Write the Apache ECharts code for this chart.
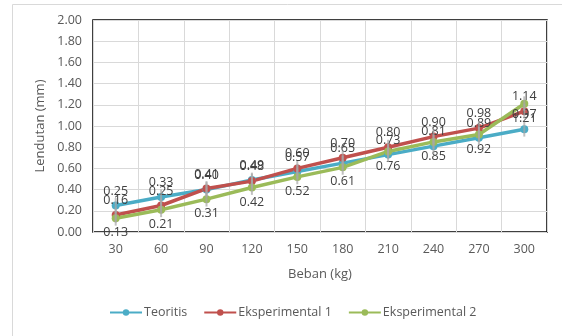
<!DOCTYPE html>
<html>
<head>
<meta charset="utf-8">
<script src="https://cdn.jsdelivr.net/npm/echarts@6/dist/echarts.min.js"></script>
<style>
  html, body { margin: 0; padding: 0; background: #fff; }
  #chart { width: 562px; height: 336px; }
</style>
</head>
<body>
<div id="chart"></div>
<script>
// data
var beban = ['30', '60', '90', '120', '150', '180', '210', '240', '270', '300'];
var teoritis = [0.25, 0.33, 0.40, 0.49, 0.57, 0.65, 0.73, 0.81, 0.89, 0.97];
var eksp1 = [0.16, 0.25, 0.41, 0.48, 0.60, 0.70, 0.80, 0.90, 0.98, 1.14];
var eksp2 = [0.13, 0.21, 0.31, 0.42, 0.52, 0.61, 0.76, 0.85, 0.92, 1.21];
var yTicks = [0, 0.2, 0.4, 0.6, 0.8, 1.0, 1.2, 1.4, 1.6, 1.8, 2.0];
var errAmount = 0.07; // gray error bars

(function () {
  var myChart = echarts.init(document.getElementById('chart'));
  var txt = '#595959';
  var font = '"Open Sans", Lato, sans-serif';

  function lineSeries(name, data, color, pos) {
    return {
      name: name,
      type: 'line',
      data: data,
      symbol: 'circle',
      symbolSize: 8,
      color: color,
      lineStyle: { width: 3.5, color: color },
      itemStyle: { color: color },
      label: {
        show: true,
        position: pos,
        distance: 4,
        color: '#404040',
        fontSize: 12.5,
        fontFamily: font,
        formatter: function (p) { return p.value.toFixed(2); }
      },
      z: 3
    };
  }

  // error bars drawn over each series
  function errSeries(data) {
    return {
      type: 'custom',
      silent: true,
      z: 4,
      data: data.map(function (v, i) { return [i, v - errAmount, v + errAmount]; }),
      renderItem: function (params, api) {
        var lo = api.coord([api.value(0), api.value(1)]);
        var hi = api.coord([api.value(0), api.value(2)]);
        return {
          type: 'line',
          shape: { x1: lo[0], y1: lo[1], x2: hi[0], y2: hi[1] },
          style: { stroke: '#a6a6a6', lineWidth: 2, opacity: 0.7 }
        };
      }
    };
  }

  var option = {
    animation: false,
    textStyle: { fontFamily: font },
    graphic: [{
      type: 'rect',
      shape: { x: 12.5, y: 4.5, width: 600, height: 400 },
      style: { fill: 'none', stroke: '#d9d9d9', lineWidth: 1 },
      silent: true
    }],
    grid: {
      left: 93, right: 15, top: 20, bottom: 104,
      show: true, borderColor: '#000', borderWidth: 1.5,
      containLabel: false
    },
    legend: {
      bottom: 12,
      left: 104,
      itemWidth: 32,
      itemHeight: 8,
      itemGap: 16,
      textStyle: { color: txt, fontSize: 12.5, fontFamily: font, padding: [0, 0, 0, -3] },
      data: ['Teoritis', 'Eksperimental 1', 'Eksperimental 2']
    },
    xAxis: {
      type: 'category',
      data: beban,
      boundaryGap: true,
      name: 'Beban (kg)',
      nameLocation: 'middle',
      nameGap: 36,
      nameTextStyle: { color: txt, fontSize: 13, fontFamily: font },
      axisLine: { show: false },
      axisTick: { show: false },
      axisLabel: { color: txt, fontSize: 12.5, margin: 11, fontFamily: font },
      splitLine: { show: true, lineStyle: { color: '#d9d9d9', width: 1 } }
    },
    yAxis: {
      type: 'value',
      min: yTicks[0],
      max: yTicks[yTicks.length - 1],
      interval: 0.2,
      name: 'Lendutan (mm)',
      nameLocation: 'middle',
      nameGap: 42,
      nameRotate: 90,
      nameTextStyle: { color: txt, fontSize: 13, fontFamily: font },
      axisLine: { show: false },
      axisTick: { show: false },
      axisLabel: {
        color: txt, fontSize: 12.5, margin: 11, fontFamily: font,
        formatter: function (v) { return v.toFixed(2); }
      },
      splitLine: { show: true, lineStyle: { color: '#d9d9d9', width: 1 } }
    },
    series: [
      lineSeries('Teoritis', teoritis, '#4bacc6', 'top'),
      lineSeries('Eksperimental 1', eksp1, '#c0504d', 'top'),
      lineSeries('Eksperimental 2', eksp2, '#9bbb59', 'bottom'),
      errSeries(teoritis),
      errSeries(eksp1),
      errSeries(eksp2)
    ]
  };

  myChart.setOption(option);
})();
</script>
</body>
</html>
